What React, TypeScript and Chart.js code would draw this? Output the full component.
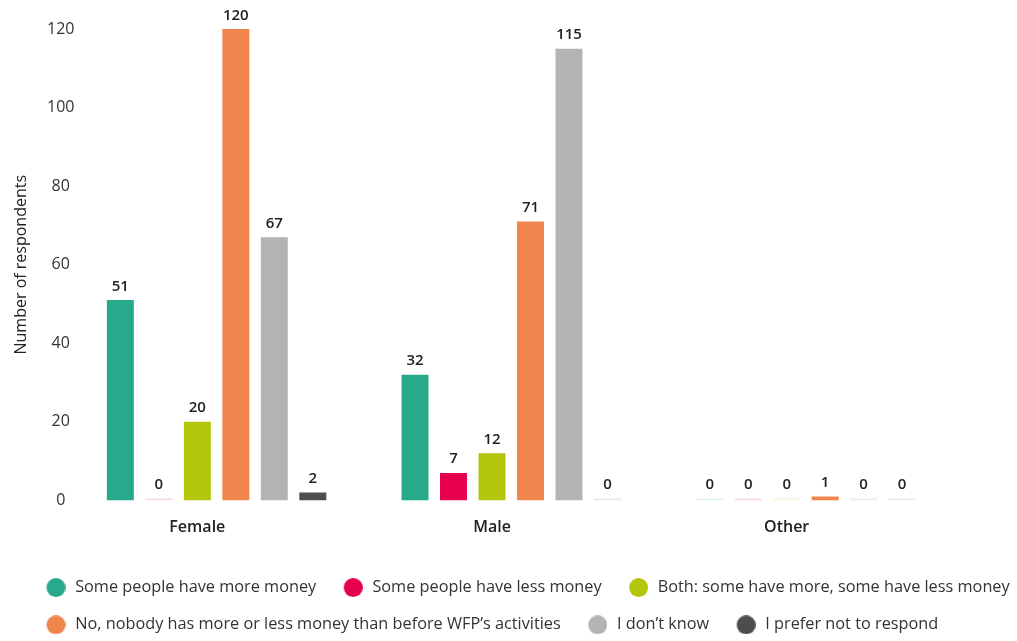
import React, { useEffect, useRef } from "react";
import { Chart, registerables } from "chart.js";

Chart.register(...registerables);

const categories = ["Female", "Male", "Other"];

const seriesLabels = [
  "Some people have more money",
  "Some people have less money",
  "Both: some have more, some have less money",
  "No, nobody has more or less money than before WFP\u2019s activities",
  "I don\u2019t know",
  "I prefer not to respond",
];

const seriesColors = ["#27a98b", "#e6004e", "#b4c60c", "#f0854e", "#b3b3b3", "#4d4d4d"];
const zeroColors = [
  "rgba(39,169,139,0.15)",
  "rgba(230,0,78,0.15)",
  "rgba(180,198,12,0.15)",
  "rgba(240,133,78,0.15)",
  "rgba(179,179,179,0.25)",
  "rgba(77,77,77,0.12)",
];

const moreMoney = [51, 32, 0];
const lessMoney = [0, 7, 0];
const bothMoney = [20, 12, 0];
const nobodyMoney = [120, 71, 1];
const dontKnow = [67, 115, 0];
const preferNot = [2, 0, 0];

const seriesValues = [moreMoney, lessMoney, bothMoney, nobodyMoney, dontKnow, preferNot];

const yMin = 0;
const yMax = 120;
const yStep = 20;
const yTitle = "Number of respondents";

const FONT = "'Open Sans', 'Noto Sans', sans-serif";

function makeDot(color: string): HTMLCanvasElement {
  const c = document.createElement("canvas");
  c.width = 24;
  c.height = 19;
  const g = c.getContext("2d")!;
  g.fillStyle = color;
  g.beginPath();
  g.arc(14.5, 9.5, 9.5, 0, Math.PI * 2);
  g.fill();
  return c;
}

const valueLabels = {
  id: "valueLabels",
  afterDatasetsDraw(chart: any) {
    const ctx = chart.ctx;
    ctx.save();
    ctx.font = `600 15px ${FONT}`;
    ctx.fillStyle = "#222222";
    ctx.textAlign = "center";
    ctx.textBaseline = "alphabetic";
    chart.data.datasets.forEach((ds: any, di: number) => {
      if (di === 0) return;
      const meta = chart.getDatasetMeta(di);
      meta.data.forEach((bar: any, i: number) => {
        const v = ds.data[i];
        if (v === null || v === undefined) return;
        ctx.fillText(String(v), bar.x, bar.y - 9.5);
      });
    });
    ctx.restore();
  },
};

export default function App() {
  const ref = useRef<HTMLCanvasElement | null>(null);

  useEffect(() => {
    document.body.style.margin = "0";
    if (!ref.current) return;
    Chart.defaults.font.family = FONT;
    const dots = seriesColors.map(makeDot);

    const datasets: any[] = [
      {
        label: "",
        data: categories.map(() => null),
        backgroundColor: "rgba(0,0,0,0)",
        categoryPercentage: 0.9145,
        barPercentage: 0.7,
      },
      ...seriesLabels.map((label, k) => ({
        label,
        data: seriesValues[k],
        backgroundColor: (c: any) => (c.raw === 0 ? zeroColors[k] : seriesColors[k]),
        borderWidth: 0,
        minBarLength: 2,
        categoryPercentage: 0.9145,
        barPercentage: 0.7,
      })),
    ];

    const chart = new Chart(ref.current, {
      type: "bar",
      data: { labels: categories, datasets },
      plugins: [valueLabels],
      options: {
        animation: false,
        responsive: true,
        maintainAspectRatio: false,
        layout: { padding: { top: 29, left: 19, right: -30, bottom: -2 } },
        plugins: {
          tooltip: { enabled: false },
          legend: {
            position: "bottom",
            align: "start",
            labels: {
              usePointStyle: true,
              pointStyleWidth: 27,
              padding: 21,
              color: "#333333",
              font: { size: 16.3, family: FONT },
              generateLabels: (ch: any) => {
                const items = (Chart.defaults.plugins.legend.labels as any).generateLabels(ch);
                return items
                  .filter((it: any) => it.datasetIndex !== 0)
                  .map((it: any) => ({
                    ...it,
                    fillStyle: seriesColors[it.datasetIndex - 1],
                    pointStyle: dots[it.datasetIndex - 1],
                  }));
              },
            },
          },
        },
        scales: {
          x: {
            grid: { display: false, drawTicks: false },
            border: { display: false },
            ticks: {
              padding: 17,
              color: "#222222",
              font: { size: 16, weight: 600, family: FONT },
            },
            afterFit: (s: any) => {
              s.height = 58;
            },
          },
          y: {
            min: yMin,
            max: yMax,
            grid: { display: false, drawTicks: false },
            border: { display: false },
            ticks: {
              stepSize: yStep,
              mirror: true,
              crossAlign: "center",
              padding: -3,
              color: "#333333",
              font: { size: 16, family: FONT },
            },
            title: {
              display: true,
              text: yTitle,
              color: "#222222",
              font: { size: 16, family: FONT },
              padding: { top: -7.6, bottom: 0 },
            },
            afterFit: (s: any) => {
              s.width = 31;
            },
          },
          yRight: {
            type: "linear",
            position: "right",
            display: true,
            grid: { display: false, drawTicks: false },
            border: { display: false },
            ticks: { display: false },
            afterFit: (s: any) => {
              s.width = 113;
            },
          },
        },
      } as any,
    });

    return () => chart.destroy();
  }, []);

  return (
    <div style={{ width: 1017, height: 641, position: "relative" }}>
      <canvas ref={ref} />
    </div>
  );
}
